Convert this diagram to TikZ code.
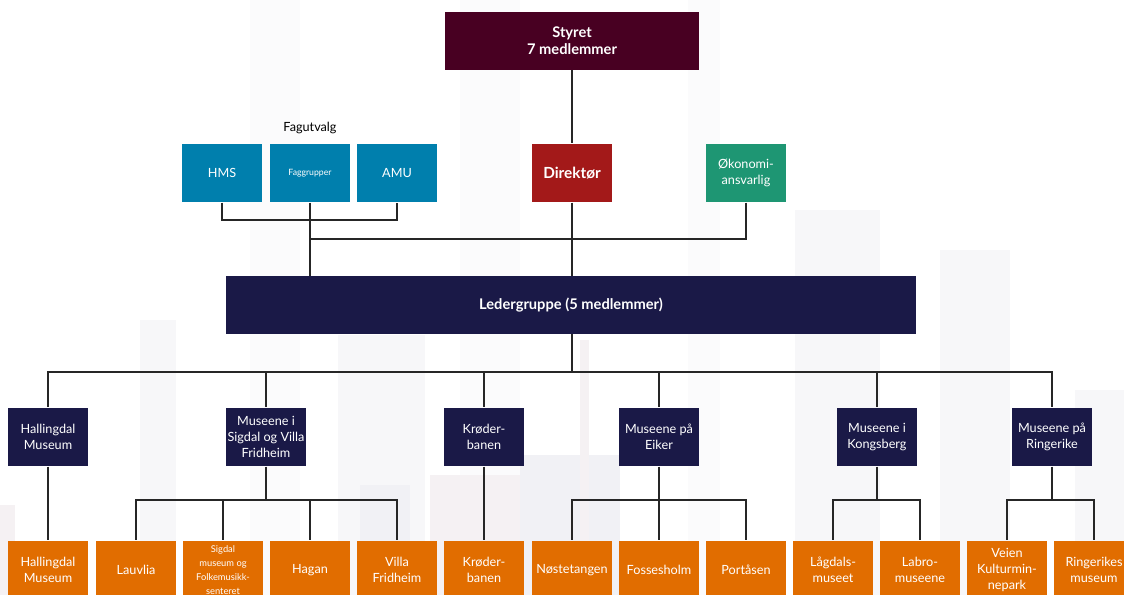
\documentclass[tikz,border=0pt]{standalone}
\usepackage{fontspec}
\setmainfont{Lato}
\usepackage{tikz}
\usetikzlibrary{calc}

\definecolor{styretred}{HTML}{480022}
\definecolor{direktorred}{HTML}{A31919}
\definecolor{fagblue}{HTML}{007FAD}
\definecolor{okogreen}{HTML}{1E9673}
\definecolor{navy}{HTML}{1A1947}
\definecolor{museumorange}{HTML}{E16D00}
\definecolor{bgfaint}{HTML}{FBFBFC}
\definecolor{bglight}{HTML}{F7F7F9}
\definecolor{bggray}{HTML}{F1F1F5}
\definecolor{bgpink}{HTML}{F5F1F3}

\tikzset{
  unit/.style={minimum width=60pt,minimum height=44pt,inner sep=1pt,align=center,
    text=white,font=\fontsize{9.5}{12}\selectfont},
  leader/.style={unit,fill=navy},
  museum/.style={unit,fill=museumorange},
  committee/.style={unit,fill=fagblue},
  link/.style={draw=black!85,line width=0.8pt}
}

\begin{document}
\begin{tikzpicture}[x=0.75pt,y=-0.75pt]
        \useasboundingbox (0,0) rectangle (1124,595);
        \fill[white] (0,0) rectangle (1124,595);

        % skyline in the background
        \fill[bgfaint] (250,0) rectangle (300,595);
        \fill[bgfaint] (460,0) rectangle (520,595);
        \fill[bgfaint] (688,0) rectangle (720,595);
        \fill[bglight] (140,320) rectangle (176,595);
        \fill[bglight] (338,335) rectangle (425,595);
        \fill[bglight] (940,250) rectangle (1010,595);
        \fill[bglight] (795,210) rectangle (880,595);
        \fill[bggray] (360,485) rectangle (410,595);
        \fill[bgpink] (430,475) rectangle (560,595);
        \fill[bggray] (520,455) rectangle (620,595);
        \fill[bgpink] (580,340) rectangle (589,595);
        \fill[bglight] (1075,390) rectangle (1124,595);
        \fill[bgpink] (0,505) rectangle (15,595);

        % top of the organisation
        \node[unit,fill=styretred,minimum width=190pt,minimum height=43pt,
          font=\bfseries\fontsize{11}{13}\selectfont] (styret) at (572,41) {Styret\\7 medlemmer};
        \node[font=\fontsize{9.5}{12}\selectfont] (fagutvalg) at (310,128) {Fagutvalg};
        \node[committee] (hms) at (222,173) {HMS};
        \node[committee,font=\fontsize{6.5}{8}\selectfont] (faggrupper) at (310,173) {Faggrupper};
        \node[committee] (amu) at (397,173) {AMU};
        \node[unit,fill=direktorred,font=\bfseries\fontsize{11.5}{13}\selectfont] (direktor) at (572,173) {Direktør};
        \node[unit,fill=okogreen] (okonomi) at (746,173) {Økonomi-\\ansvarlig};

        \node[leader,minimum width=517.5pt,minimum height=43.5pt,
          font=\bfseries\fontsize{11}{13}\selectfont] (ledergruppe) at (571,305) {Ledergruppe (5 medlemmer)};

        % departments
        \node[leader] (hallingdal) at (48,437) {Hallingdal\\Museum};
        \node[leader] (sigdal) at (266,437) {Museene i\\Sigdal og Villa\\Fridheim};
        \node[leader] (kroder) at (484,437) {Krøder-\\banen};
        \node[leader] (eiker) at (659,437) {Museene på\\Eiker};
        \node[leader] (kongsberg) at (877,437) {Museene i\\Kongsberg};
        \node[leader] (ringerike) at (1052,437) {Museene på\\Ringerike};

        % museums
        \node[museum] (hallingdalm) at (48,570) {Hallingdal\\Museum};
        \node[museum] (lauvlia) at (136,570) {Lauvlia};
        \node[museum,font=\fontsize{7}{10.5}\selectfont] (sigdalm) at (223,570) {Sigdal\\museum og\\Folkemusikk-\\senteret};
        \node[museum] (hagan) at (310,570) {Hagan};
        \node[museum] (villa) at (397,570) {Villa\\Fridheim};
        \node[museum] (kroderm) at (484,570) {Krøder-\\banen};
        \node[museum] (nostetangen) at (572,570) {Nøstetangen};
        \node[museum] (fossesholm) at (659,570) {Fossesholm};
        \node[museum] (portasen) at (746,570) {Portåsen};
        \node[museum] (lagdal) at (833,570) {Lågdals-\\museet};
        \node[museum] (labro) at (920,570) {Labro-\\museene};
        \node[museum] (veien) at (1007,570) {Veien\\Kulturmin-\\nepark};
        \node[museum] (ringerikes) at (1094,570) {Ringerikes\\museum};

        \coordinate (fagbus) at (0,220);
        \coordinate (okobus) at (0,239);
        \coordinate (mainbus) at (0,372);
        \coordinate (subbus) at (0,500);

        % lines
        \draw[link] (styret.south) -- (direktor.north);
        \draw[link] (direktor.south) -- (direktor.south |- ledergruppe.north);
        \draw[link] (hms.south) -- (hms.south |- fagbus) -- (amu.south |- fagbus) -- (amu.south);
        \draw[link] (faggrupper.south) -- (faggrupper.south |- ledergruppe.north);
        \draw[link] (okonomi.south) |- (faggrupper.south |- okobus);

        \draw[link] (ledergruppe.south -| direktor.south) -- (direktor.south |- mainbus);
        \foreach \dep in {hallingdal,sigdal,kroder,eiker,kongsberg,ringerike}
            \draw[link] (direktor.south |- mainbus) -| (\dep.north);

        \draw[link] (hallingdal.south) -- (hallingdalm.north);
        \draw[link] (kroder.south) -- (kroderm.north);

        \draw[link] (sigdal.south) -- (sigdal.south |- subbus);
        \foreach \mus in {lauvlia,sigdalm,hagan,villa}
            \draw[link] (sigdal.south |- subbus) -| (\mus.north);
        \draw[link] (eiker.south) -- (eiker.south |- subbus);
        \foreach \mus in {nostetangen,fossesholm,portasen}
            \draw[link] (eiker.south |- subbus) -| (\mus.north);
        \draw[link] (kongsberg.south) -- (kongsberg.south |- subbus);
        \foreach \mus in {lagdal,labro}
            \draw[link] (kongsberg.south |- subbus) -| (\mus.north);
        \draw[link] (ringerike.south) -- (ringerike.south |- subbus);
        \foreach \mus in {veien,ringerikes}
            \draw[link] (ringerike.south |- subbus) -| (\mus.north);
    \end{tikzpicture}
\end{document}
